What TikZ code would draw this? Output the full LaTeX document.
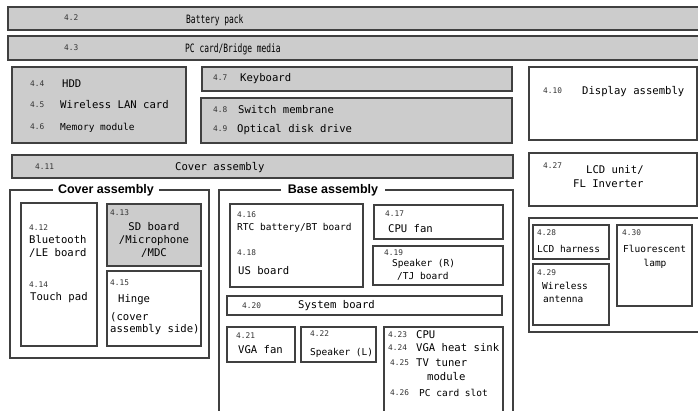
\documentclass[tikz,border=0pt]{standalone}
\usepackage{fontspec}
\setmainfont{Liberation Sans}
\newfontfamily\gothic{DejaVu Sans Mono}
\newfontfamily\gothicnarrow[FakeStretch=0.69]{DejaVu Sans Mono}
\usetikzlibrary{fit}

\begin{document}
\begin{tikzpicture}[x=1pt, y=-1pt,
  part/.style={draw=black!75, line width=1.6pt, fill=white, inner sep=0pt},
  greypart/.style={part, fill=black!20},
  frame/.style={draw=black!75, line width=1.3pt},
  num/.style={font=\gothic\fontsize{7.8}{8}\selectfont, text=black!80, inner sep=0pt, anchor=west, text height=5.7pt, text depth=0pt},
  big/.style={font=\gothic\fontsize{10.6}{12}\selectfont, text=black, inner sep=0pt, anchor=west, text height=7.7pt, text depth=0pt},
  small/.style={big, font=\gothic\fontsize{9.5}{11}\selectfont, text height=6.9pt},
  wide/.style={big, font=\gothicnarrow\fontsize{11.5}{12}\selectfont, text height=8.4pt},
  title/.style={font=\bfseries\fontsize{12.5}{14}\selectfont, fill=white, inner xsep=5pt, inner ysep=1pt}
]
\useasboundingbox (0,0) rectangle (698,410);
\clip (0,0) rectangle (698,410);

% top bars
\node[greypart, fit={(8,7) (705,30)}] (battery) {};
\node[greypart, fit={(8,36) (705,60)}] (pccard) {};
\node[num] (n42) at (64,18) {4.2};
\node[wide] (batterytxt) at (186,19) {Battery pack};
\node[num] (n43) at (64,48) {4.3};
\node[wide] (pccardtxt) at (185,48) {PC card/Bridge media};

% upper row
\node[greypart, fit={(12,67) (186,143)}] (hdd) {};
\node[num] (n44) at (30,84) {4.4};
\node[big] (hddtxt) at (62,84) {HDD};
\node[num] (n45) at (30,105) {4.5};
\node[big] (wlantxt) at (60,105) {Wireless LAN card};
\node[num] (n46) at (30,127) {4.6};
\node[small] (memtxt) at (60,127) {Memory module};

\node[greypart, fit={(202,67) (512,91)}] (keyboard) {};
\node[num] (n47) at (213,78) {4.7};
\node[big] (keyboardtxt) at (240,78) {Keyboard};

\node[greypart, fit={(201,98) (512,143)}] (switch) {};
\node[num] (n48) at (213,110) {4.8};
\node[big] (switchtxt) at (238,110) {Switch membrane};
\node[num] (n49) at (213,129) {4.9};
\node[big] (odttxt) at (237,129) {Optical disk drive};

\node[part, fit={(529,67) (697,140)}] (display) {};
\node[num] (n410) at (543,91) {4.10};
\node[big] (displaytxt) at (582,91) {Display assembly};

\node[greypart, fit={(12,155) (513,178)}] (coverbar) {};
\node[num] (n411) at (35,167) {4.11};
\node[big] (coverbartxt) at (175,167) {Cover assembly};

\node[part, fit={(529,153) (697,206)}] (lcdunit) {};
\node[num] (n427) at (543,166) {4.27};
\node[big] (lcdtxt) at (586,170) {LCD unit/};
\node[big] (fltxt) at (573,184) {FL Inverter};

% cover assembly
\draw[frame] (10,190) rectangle (209,358);
\node[title] (covertitle) at (106,190) {Cover assembly};

\node[part, fit={(21,203) (97,346)}] (bluetooth) {};
\node[num] (n412) at (29,228) {4.12};
\node[big] (bttxt) at (29,240) {Bluetooth};
\node[big] (letxt) at (29,253) {/LE board};
\node[num] (n414) at (29,285) {4.14};
\node[big] (touchtxt) at (30,297) {Touch pad};

\node[greypart, fit={(107,204) (201,266)}] (sdboard) {};
\node[num] (n413) at (110,213) {4.13};
\node[big, anchor=center] (sdtxt) at (154,227) {SD board};
\node[big, anchor=center] (mictxt) at (154,240) {/Microphone};
\node[big, anchor=center] (mdctxt) at (154,253) {/MDC};

\node[part, fit={(107,271) (201,346)}] (hinge) {};
\node[num] (n415) at (110,283) {4.15};
\node[big] (hingetxt) at (118,299) {Hinge};
\node[big] (covertxt) at (110,317) {(cover};
\node[big] (sidetxt) at (110,329) {assembly side)};

% base assembly
\draw[frame] (219,415) |- (513,190) -- (513,415);
\node[title, inner xsep=7pt] (basetitle) at (333,190) {Base assembly};

\node[part, fit={(230,204) (363,287)}] (rtc) {};
\node[num] (n416) at (237,215) {4.16};
\node[small] (rtctxt) at (237,227) {RTC battery/BT board};
\node[num] (n418) at (237,253) {4.18};
\node[big] (ustxt) at (238,271) {US board};

\node[part, fit={(374,205) (503,239)}] (cpufan) {};
\node[num] (n417) at (385,214) {4.17};
\node[big] (cpufantxt) at (388,229) {CPU fan};

\node[part, fit={(373,246) (503,285)}] (speakerr) {};
\node[num] (n419) at (384,253) {4.19};
\node[small] (spkrtxt) at (392,263) {Speaker (R)};
\node[small] (tjtxt) at (397,276) {/TJ board};

\node[part, fit={(227,296) (502,315)}] (system) {};
\node[num] (n420) at (242,306) {4.20};
\node[big] (systemtxt) at (298,305) {System board};

\node[part, fit={(227,327) (295,362)}] (vgafan) {};
\node[num] (n421) at (236,336) {4.21};
\node[big] (vgafantxt) at (238,350) {VGA fan};

\node[part, fit={(301,327) (376,362)}] (speakerl) {};
\node[num] (n422) at (310,334) {4.22};
\node[small] (spkltxt) at (310,352) {Speaker (L)};

\node[part, fit={(384,327) (503,420)}] (cpu) {};
\node[num] (n423) at (388,335) {4.23};
\node[big] (cputxt) at (416,335) {CPU};
\node[num] (n424) at (388,348) {4.24};
\node[big] (sinktxt) at (416,348) {VGA heat sink};
\node[num] (n425) at (390,363) {4.25};
\node[big] (tvtxt) at (416,363) {TV tuner};
\node[big] (moduletxt) at (427,377) {module};
\node[num] (n426) at (390,393) {4.26};
\node[small] (slottxt) at (419,393) {PC card slot};

% display parts
\node[part, fit={(529,218) (705,332)}] (lcdparts) {};
\node[part, fit={(533,225) (609,259)}] (harness) {};
\node[num] (n428) at (537,233) {4.28};
\node[small] (harnesstxt) at (537,249) {LCD harness};
\node[part, fit={(533,264) (609,325)}] (antenna) {};
\node[num] (n429) at (537,273) {4.29};
\node[small] (wirelesstxt) at (542,286) {Wireless};
\node[small] (antennatxt) at (543,299) {antenna};
\node[part, fit={(617,225) (692,306)}] (lamp) {};
\node[num] (n430) at (622,233) {4.30};
\node[small] (fluotxt) at (623,249) {Fluorescent};
\node[small, anchor=center] (lamptxt) at (655,263) {lamp};
\end{tikzpicture}
\end{document}
